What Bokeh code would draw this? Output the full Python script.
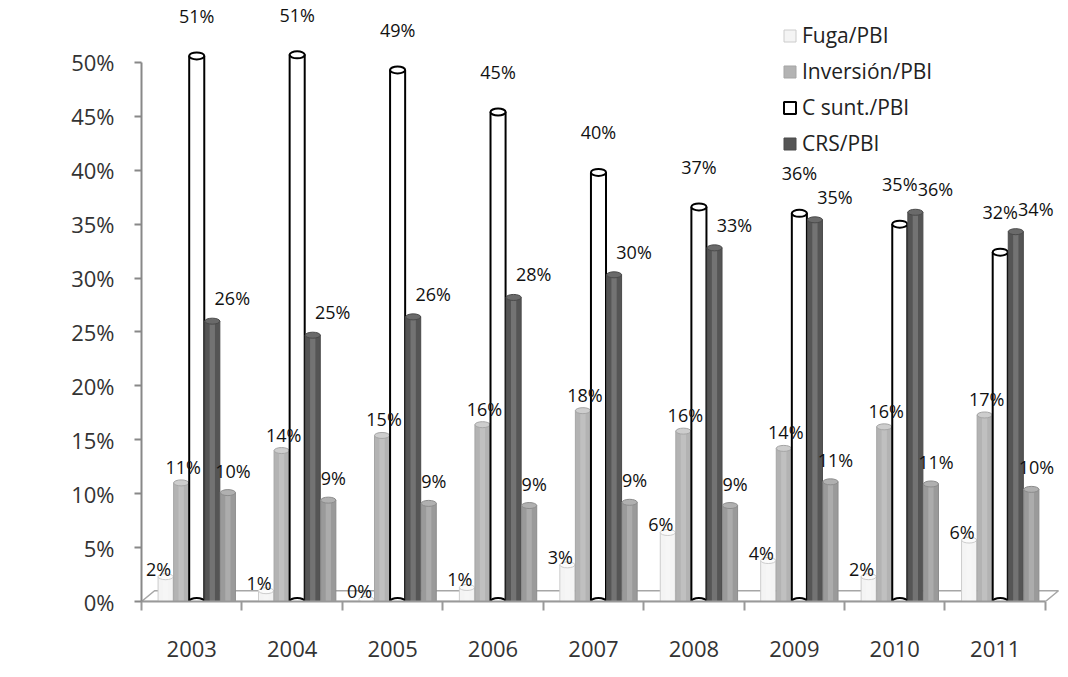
import numpy as np
from bokeh.plotting import figure
from bokeh.models import (ColumnDataSource, LabelSet, FixedTicker, Legend,
                          LegendItem, Range1d)
from bokeh.core.properties import value
from bokeh.embed import file_html
from bokeh.resources import INLINE

# ---- data (percent of GDP) ----
years = ["2003", "2004", "2005", "2006", "2007", "2008", "2009", "2010", "2011"]
fuga = [2.3, 1.0, 0.2, 1.3, 3.4, 6.4, 3.8, 2.3, 5.7]
inversion = [11.0, 14.0, 15.4, 16.4, 17.7, 15.8, 14.2, 16.2, 17.3]
c_sunt = [50.6, 50.7, 49.3, 45.4, 39.8, 36.6, 36.0, 35.0, 32.4]
crs = [26.0, 24.7, 26.4, 28.2, 30.3, 32.8, 35.4, 36.1, 34.3]
otro = [10.1, 9.4, 9.1, 8.9, 9.2, 8.9, 11.1, 10.9, 10.4]
y_ticks = [0, 5, 10, 15, 20, 25, 30, 35, 40, 45, 50]
y_tick_labels = ["0%", "5%", "10%", "15%", "20%", "25%", "30%", "35%", "40%", "45%", "50%"]

FONT = "Open Sans"

p = figure(width=1068, height=677, output_backend="svg", toolbar_location=None,
           x_range=Range1d(-0.5, 8.67), y_range=Range1d(0, 55),
           min_border_left=141, min_border_right=6, min_border_top=8,
           min_border_bottom=76)
p.outline_line_color = None
p.xgrid.visible = False
p.ygrid.visible = False

idx = np.arange(len(years))

# floor of the 3D plot
p.patch(x=[-0.5, 8.5, 8.63, -0.37], y=[0, 0, 1.0, 1.0], fill_color="white",
        line_color="#a6a6a6", line_width=1.5)

W = 0.15
series = [
    ("Fuga/PBI", fuga, -0.26, "#f4f4f4", "#cccccc", 1, "#fbfbfb", -7, 8),
    ("Inversión/PBI", inversion, -0.105, "#b3b3b3", "#a5a5a5", 1, "#cdcdcd", 2, 16),
    ("C sunt./PBI", c_sunt, 0.05, "#ffffff", "#000000", 2, "#ffffff", 0, 40),
    ("CRS/PBI", crs, 0.205, "#555555", "#4a4a4a", 1, "#6a6a6a", 20, 23),
    (None, otro, 0.36, "#9a9a9a", "#8c8c8c", 1, "#b0b0b0", 5, 22),
]

legend_items = []
for name, vals, off, fill, line, lw, cap, xo, yo in series:
    src = ColumnDataSource(dict(x=idx + off, top=vals,
                                zero=[0] * len(vals),
                                lab=[f"{round(v)}%" for v in vals]))
    r = p.vbar(x="x", top="top", width=W, source=src, fill_color=fill,
               line_color=line, line_width=lw)
    if fill != "#ffffff":
        # soft highlight to suggest a cylinder
        p.vbar(x="x", top="top", width=W * 0.35, source=src,
               fill_color="white", fill_alpha=0.18, line_color=None)
        p.ellipse(x="x", y="top", width=W, height=6, height_units="screen",
                  source=src, fill_color=cap, line_color=line, line_width=1)
    else:
        p.ellipse(x="x", y="top", width=W, height=7, height_units="screen",
                  source=src, fill_color="white", line_color="black", line_width=2)
        p.ellipse(x="x", y="zero", width=W, height=7, height_units="screen",
                  source=src, fill_color="white", line_color="black", line_width=2)
    if name:
        legend_items.append(LegendItem(label=name, renderers=[r]))
    labels = LabelSet(x="x", y="top", text="lab", source=src, x_offset=xo,
                      y_offset=yo, text_align="center", text_baseline="middle",
                      text_font=value(FONT), text_font_size="18px",
                      text_color="#111111")
    p.add_layout(labels)

# y axis
p.yaxis.ticker = FixedTicker(ticks=y_ticks)
p.yaxis.major_label_overrides = {t: l for t, l in zip(y_ticks, y_tick_labels)}
p.yaxis.bounds = (0, 50)
p.yaxis.axis_line_color = "#888888"
p.yaxis.axis_line_width = 2
p.yaxis.major_tick_line_color = "#888888"
p.yaxis.major_tick_line_width = 2
p.yaxis.major_tick_out = 7
p.yaxis.major_tick_in = 0
p.yaxis.minor_tick_line_color = None
p.yaxis.major_label_text_font = FONT
p.yaxis.major_label_text_font_size = "22px"
p.yaxis.major_label_text_color = "#333333"
p.yaxis.major_label_standoff = 20

# x axis
p.xaxis.ticker = FixedTicker(ticks=list(idx), minor_ticks=[i - 0.5 for i in range(len(years) + 1)])
p.xaxis.major_label_overrides = {int(i): y for i, y in zip(idx, years)}
p.xaxis.bounds = (-0.5, 8.5)
p.xaxis.axis_line_color = "#999999"
p.xaxis.axis_line_width = 2
p.xaxis.major_tick_line_color = None
p.xaxis.major_tick_out = 0
p.xaxis.major_tick_in = 0
p.xaxis.minor_tick_line_color = "#999999"
p.xaxis.minor_tick_line_width = 2
p.xaxis.minor_tick_out = 9
p.xaxis.minor_tick_in = 0
p.xaxis.major_label_text_font = FONT
p.xaxis.major_label_text_font_size = "22px"
p.xaxis.major_label_text_color = "#333333"
p.xaxis.major_label_standoff = 30

legend = Legend(items=legend_items, location=(641, 444))
legend.background_fill_alpha = 0
legend.border_line_color = None
legend.label_text_font = FONT
legend.label_text_font_size = "21px"
legend.label_text_color = "#222222"
legend.glyph_width = 15
legend.glyph_height = 15
legend.label_height = 20
legend.spacing = 8
legend.padding = 5
legend.margin = 0
legend.label_standoff = 5
p.add_layout(legend)

open("out.html", "w").write(file_html(p, INLINE))
